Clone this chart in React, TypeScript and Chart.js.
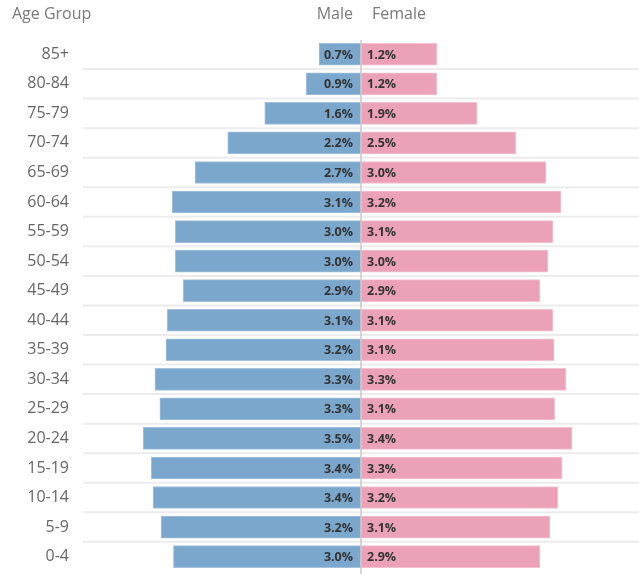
import React, { useEffect, useRef } from "react";
import { Chart, registerables } from "chart.js";

Chart.register(...registerables);

const ageGroups = [
  "85+", "80-84", "75-79", "70-74", "65-69", "60-64", "55-59", "50-54", "45-49",
  "40-44", "35-39", "30-34", "25-29", "20-24", "15-19", "10-14", "5-9", "0-4",
];
const maleValues = [
  0.68, 0.89, 1.56, 2.16, 2.69, 3.06, 3.01, 3.01, 2.88,
  3.14, 3.16, 3.34, 3.26, 3.53, 3.4, 3.37, 3.24, 3.04,
];
const femaleValues = [
  1.23, 1.23, 1.88, 2.51, 3.0, 3.24, 3.11, 3.03, 2.9,
  3.11, 3.13, 3.32, 3.14, 3.42, 3.26, 3.19, 3.06, 2.9,
];
const axisLimit = 4.506;
const headerLeft = "Age Group";
const headerMale = "Male";
const headerFemale = "Female";

const MALE = "#7ba7cc";
const MALE_EDGE = "#a3c1dc";
const FEMALE = "#eba1b8";
const FEMALE_EDGE = "#f3c2d1";
const FONT = "'Open Sans', 'DejaVu Sans', sans-serif";

const pyramidPlugin = {
  id: "pyramid",
  beforeDatasetsDraw(chart: any) {
    const { ctx, chartArea, scales } = chart;
    const y = scales.y;
    ctx.save();
    ctx.strokeStyle = "#ececec";
    ctx.lineWidth = 2;
    for (let i = 1; i < ageGroups.length; i++) {
      const yy = (y.getPixelForTick(i - 1) + y.getPixelForTick(i)) / 2;
      ctx.beginPath();
      ctx.moveTo(chartArea.left, yy);
      ctx.lineTo(chartArea.right, yy);
      ctx.stroke();
    }
    ctx.restore();
  },
  afterDatasetsDraw(chart: any) {
    const { ctx, scales } = chart;
    const x0 = scales.x.getPixelForValue(0);
    ctx.save();
    ctx.strokeStyle = "#c8c8c8";
    ctx.lineWidth = 1.5;
    ctx.beginPath();
    ctx.moveTo(x0, 40);
    ctx.lineTo(x0, chart.height);
    ctx.stroke();

    ctx.font = `bold 12.5px ${FONT}`;
    ctx.fillStyle = "#333333";
    ctx.textBaseline = "middle";
    const mMeta = chart.getDatasetMeta(0);
    const fMeta = chart.getDatasetMeta(1);
    mMeta.data.forEach((bar: any, i: number) => {
      ctx.textAlign = "right";
      ctx.fillText(maleValues[i].toFixed(1) + "%", x0 - 8, bar.y + 1);
    });
    fMeta.data.forEach((bar: any, i: number) => {
      ctx.textAlign = "left";
      ctx.fillText(femaleValues[i].toFixed(1) + "%", x0 + 6, bar.y + 1);
    });

    ctx.font = `16px ${FONT}`;
    ctx.fillStyle = "#7a7a7a";
    ctx.textAlign = "left";
    ctx.fillText(headerLeft, 12, 14);
    ctx.textAlign = "right";
    ctx.fillText(headerMale, x0 - 8, 14);
    ctx.textAlign = "left";
    ctx.fillText(headerFemale, x0 + 11, 14);
    ctx.restore();
  },
};

export default function App() {
  const ref = useRef<HTMLCanvasElement>(null);
  useEffect(() => {
    document.body.style.margin = "0";
    const chart = new Chart(ref.current as HTMLCanvasElement, {
      type: "bar",
      data: {
        labels: ageGroups,
        datasets: [
          {
            label: headerMale,
            data: maleValues.map((v) => -v),
            backgroundColor: MALE,
            borderColor: MALE_EDGE,
            borderWidth: 1,
            borderSkipped: false,
            barThickness: 22,
          },
          {
            label: headerFemale,
            data: femaleValues,
            backgroundColor: FEMALE,
            borderColor: FEMALE_EDGE,
            borderWidth: 1,
            borderSkipped: false,
            barThickness: 22,
          },
        ],
      },
      options: {
        indexAxis: "y",
        responsive: false,
        maintainAspectRatio: false,
        animation: false,
        layout: { padding: { top: 39.5, bottom: 2.6, left: 0, right: 0 } },
        plugins: { legend: { display: false }, tooltip: { enabled: false } },
        scales: {
          x: { stacked: true, min: -axisLimit, max: axisLimit, display: false },
          y: {
            stacked: true,
            grid: { display: false },
            border: { display: false },
            ticks: {
              color: "#666666",
              font: { family: FONT, size: 16 },
              padding: 6,
            },
            afterFit: (s: any) => {
              s.width = 83;
              s.paddingTop = 0;
              s.paddingBottom = 0;
            },
          },
        },
      } as any,
      plugins: [pyramidPlugin],
    });
    return () => chart.destroy();
  }, []);
  return (
    <div style={{ width: 639, height: 574 }}>
      <canvas ref={ref} width={639} height={574} style={{ display: "block", width: 639, height: 574 }} />
    </div>
  );
}
